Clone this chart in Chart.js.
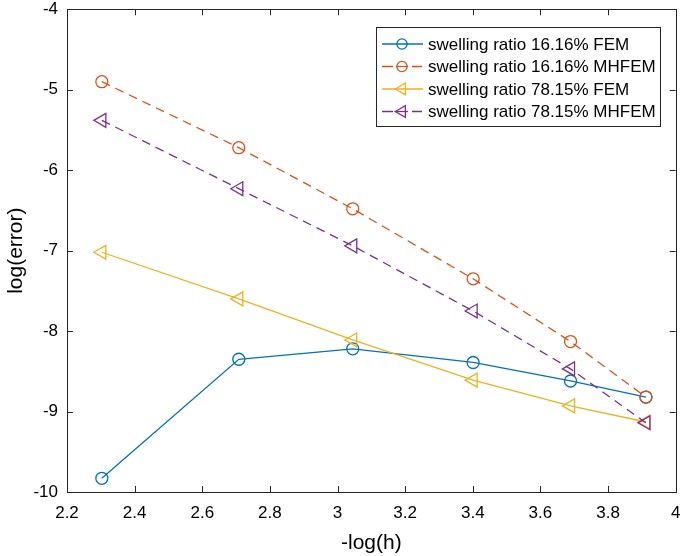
<!DOCTYPE html>
<html>
<head>
<meta charset="utf-8">
<script src="https://cdn.jsdelivr.net/npm/chart.js@4/dist/chart.umd.min.js"></script>
<style>
html,body{margin:0;padding:0;background:#fff;}
#wrap{width:685px;height:556px;position:relative;}
</style>
</head>
<body>
<div id="wrap"><canvas id="c" width="685" height="556"></canvas></div>
<script>
const xVals = [2.303, 2.708, 3.045, 3.401, 3.689, 3.912];
const fem16 = [-9.83, -8.35, -8.22, -8.39, -8.62, -8.82];
const mhfem16 = [-4.90, -5.72, -6.48, -7.35, -8.13, -8.82];
const fem78 = [-7.02, -7.60, -8.11, -8.61, -8.93, -9.13];
const mhfem78 = [-5.38, -6.23, -6.94, -7.75, -8.47, -9.14];
const seriesLabels = ['swelling ratio 16.16% FEM','swelling ratio 16.16% MHFEM','swelling ratio 78.15% FEM','swelling ratio 78.15% MHFEM'];
const xTicks = [2.2, 2.4, 2.6, 2.8, 3, 3.2, 3.4, 3.6, 3.8, 4];
const yTicks = [-10, -9, -8, -7, -6, -5, -4];

const FONT = "'Liberation Sans', Arial, Helvetica, sans-serif";
const colors = ['#0072BD','#D95319','#EDB120','#7E2F8E'];
const dashes = [[],[9,6],[],[9,6]];
const styles = ['circle','circle','triangle','triangle'];
const rots = [0,0,-90,-90];
const radii = [6,6,8,8];
const vals = [fem16, mhfem16, fem78, mhfem78];

const datasets = vals.map((arr,i)=>({
  label: seriesLabels[i],
  data: arr.map((v,j)=>({x:xVals[j], y:v})),
  borderColor: colors[i],
  backgroundColor: 'transparent',
  borderWidth: 1.3,
  borderDash: dashes[i],
  pointStyle: styles[i],
  pointRotation: rots[i],
  pointRadius: radii[i],
  pointHoverRadius: radii[i],
  pointBorderColor: colors[i],
  pointBackgroundColor: 'transparent',
  pointBorderWidth: 1.3,
  tension: 0,
  order: 4 - i
}));

function drawMarker(ctx, style, rot, r, x, y){
  ctx.beginPath();
  if (style === 'circle'){
    ctx.arc(x, y, r, 0, Math.PI*2);
  } else {
    let rad = rot*Math.PI/180;
    ctx.moveTo(x + Math.sin(rad)*r, y - Math.cos(rad)*r);
    rad += 2*Math.PI/3;
    ctx.lineTo(x + Math.sin(rad)*r, y - Math.cos(rad)*r);
    rad += 2*Math.PI/3;
    ctx.lineTo(x + Math.sin(rad)*r, y - Math.cos(rad)*r);
    ctx.closePath();
  }
  ctx.stroke();
}

const boxPlugin = {
  id: 'boxPlugin',
  afterDatasetsDraw(chart){
    const {ctx, chartArea:a, scales} = chart;
    ctx.save();
    ctx.strokeStyle = '#262626';
    ctx.lineWidth = 1;
    ctx.setLineDash([]);
    ctx.strokeRect(Math.round(a.left)+0.5, Math.round(a.top)+0.5, Math.round(a.right-a.left), Math.round(a.bottom-a.top));
    const tl = 6;
    ctx.beginPath();
    xTicks.forEach(t=>{
      const px = Math.round(scales.x.getPixelForValue(t))+0.5;
      ctx.moveTo(px, a.bottom); ctx.lineTo(px, a.bottom - tl);
      ctx.moveTo(px, a.top); ctx.lineTo(px, a.top + tl);
    });
    yTicks.forEach(t=>{
      const py = Math.round(scales.y.getPixelForValue(t))+0.5;
      ctx.moveTo(a.left, py); ctx.lineTo(a.left + tl, py);
      ctx.moveTo(a.right, py); ctx.lineTo(a.right - tl, py);
    });
    ctx.stroke();

    // legend
    const lx = 376.5, ly = 27.5, lw = 284, lh = 99;
    ctx.fillStyle = '#fff';
    ctx.fillRect(lx, ly, lw, lh);
    ctx.strokeStyle = '#262626';
    ctx.strokeRect(lx, ly, lw, lh);
    const rowY = [44, 66.5, 89, 111.5];
    ctx.font = '17px ' + FONT;
    ctx.textBaseline = 'middle';
    ctx.textAlign = 'left';
    seriesLabels.forEach((lab,i)=>{
      const y = rowY[i];
      ctx.strokeStyle = colors[i];
      ctx.lineWidth = 1.3;
      ctx.beginPath();
      if (dashes[i].length){
        ctx.moveTo(382, y); ctx.lineTo(393, y);
        ctx.moveTo(412, y); ctx.lineTo(422, y);
      } else {
        ctx.moveTo(382, y); ctx.lineTo(423, y);
      }
      ctx.stroke();
      if (dashes[i].length){
        ctx.beginPath(); ctx.moveTo(396, y); ctx.lineTo(408, y); ctx.stroke();
      }
      drawMarker(ctx, styles[i], rots[i], radii[i]*0.85, 402, y);
      ctx.fillStyle = '#000';
      ctx.fillText(lab, 428, y + 1);
    });
    ctx.restore();
  }
};

new Chart(document.getElementById('c'), {
  type: 'line',
  data: { datasets },
  plugins: [boxPlugin],
  options: {
    responsive: false,
    animation: false,
    devicePixelRatio: 1,
    layout: { padding: { top: 9, right: 6, left: 0, bottom: 0 } },
    plugins: { legend: { display: false }, tooltip: { enabled: false } },
    scales: {
      x: {
        type: 'linear', min: 2.2, max: 4,
        afterFit(s){ s.height = 64; s.paddingLeft = 0; s.paddingRight = 0; },
        afterBuildTicks(s){ s.ticks = xTicks.map(v=>({value:v})); },
        grid: { display: false, drawTicks: false },
        border: { display: false },
        ticks: {
          padding: 11, color: '#000',
          font: { family: FONT, size: 17 },
          maxRotation: 0, autoSkip: false,
          callback: v => String(parseFloat(Number(v).toFixed(1)))
        },
        title: { display: true, text: '-log(h)', color: '#000', font: { family: FONT, size: 21 }, padding: { top: 1, bottom: 0 } }
      },
      y: {
        type: 'linear', min: -10, max: -4,
        afterFit(s){ s.width = 67; s.paddingTop = 0; s.paddingBottom = 0; },
        afterBuildTicks(s){ s.ticks = yTicks.map(v=>({value:v})); },
        grid: { display: false, drawTicks: false },
        border: { display: false },
        ticks: {
          padding: 9, color: '#000',
          font: { family: FONT, size: 17 },
          autoSkip: false,
          callback: v => String(v)
        },
        title: { display: true, text: 'log(error)', color: '#000', font: { family: FONT, size: 21 }, padding: { top: 4, bottom: 4 } }
      }
    }
  }
});
</script>
</body>
</html>
